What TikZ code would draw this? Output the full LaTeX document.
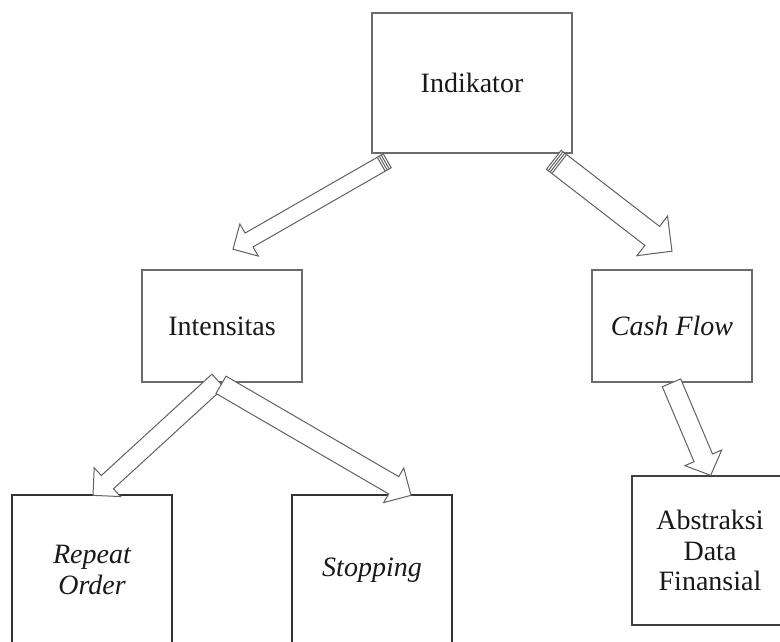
\documentclass[tikz,border=0pt]{standalone}
\usepackage{fontspec}
\setmainfont{Liberation Serif}
\usetikzlibrary{calc}

\tikzset{
  panel/.style={draw=#1, line width=1.6pt, fill=white, align=center,
    inner sep=0pt, text=black!90, font=\fontsize{28}{30.5}\selectfont},
  panel/.default={black!58},
  blockarrow/.style={draw=black!62, fill=white, line width=1pt, line join=miter},
}

% Block arrow: #1 tail, #2 tip, #3 half shaft width, #4 half head width, #5 head length
\newcommand{\blockarrow}[5]{%
  \filldraw[blockarrow] let \p1=(#1), \p2=(#2),
      \n1={atan2(\y2-\y1,\x2-\x1)}, \n2={veclen(\x2-\x1,\y2-\y1)-#5} in
    ($(\p1)+({\n1+90}:#3)$) -- ($(\p1)+(\n1:\n2)+({\n1+90}:#3)$)
    -- ($(\p1)+(\n1:\n2)+({\n1+90}:#4)$) -- (\p2)
    -- ($(\p1)+(\n1:\n2)+({\n1-90}:#4)$) -- ($(\p1)+(\n1:\n2)+({\n1-90}:#3)$)
    -- ($(\p1)+({\n1-90}:#3)$) -- cycle;
}
% Same arrow with a striped tail
\newcommand{\stripedarrow}[5]{%
  \blockarrow{#1}{#2}{#3}{#4}{#5}
  \draw[blockarrow] let \p1=(#1), \p2=(#2),
      \n1={atan2(\y2-\y1,\x2-\x1)} in
    ($(\p1)+(\n1:2.3)+({\n1+90}:#3)$) -- ($(\p1)+(\n1:2.3)+({\n1-90}:#3)$)
    ($(\p1)+(\n1:4.6)+({\n1+90}:#3)$) -- ($(\p1)+(\n1:4.6)+({\n1-90}:#3)$)
    ($(\p1)+(\n1:6.9)+({\n1+90}:#3)$) -- ($(\p1)+(\n1:6.9)+({\n1-90}:#3)$);
}

\begin{document}
\begin{tikzpicture}[x=1pt, y=1pt]
  \clip (0,0) rectangle (780,-641);
  \fill[white] (0,0) rectangle (780,-641);

  % boxes
  \node[panel, minimum width=200, minimum height=140] (ind) at (472,-83) {Indikator};
  \node[panel, minimum width=160, minimum height=112] (int) at (222,-326) {Intensitas};
  \node[panel, minimum width=160, minimum height=112] (cf) at (672,-326) {\itshape Cash Flow};
  \node[panel=black!80, line width=1.3pt, minimum width=160, minimum height=150] (ro) at (92,-570) {\itshape Repeat\\\itshape Order};
  \node[panel=black!80, line width=1.3pt, minimum width=160, minimum height=150] (st) at (372,-570) {\itshape Stopping};
  \node[panel=black!75, line width=1.3pt, minimum width=156, minimum height=149] (ab) at (710,-550.5) {Abstraksi\\Data\\Finansial};

  % connectors
  \stripedarrow{$(ind.south west)+(16,-7)$}{$(int.north)+(11,20)$}{8}{18.5}{18.5}
  \stripedarrow{$(ind.south east)+(-19,-6)$}{$(cf.north)+(0,18)$}{12}{25}{25}
  \blockarrow{$(int.south)+(-4,2)$}{$(ro.north)+(1,-1)$}{9}{19.5}{19.5}
  \blockarrow{$(int.south)+(-1,-2)$}{$(st.north)+(39,-1)$}{10}{20}{20}
  \blockarrow{$(cf.south)+(-0.5,0)$}{$(ab.north)+(0.7,0)$}{10}{20}{19}
\end{tikzpicture}
\end{document}
